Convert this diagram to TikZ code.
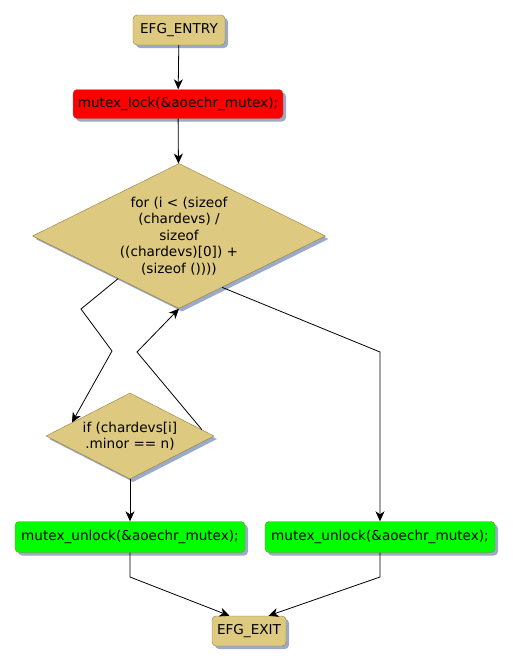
\documentclass[tikz,border=0pt]{standalone}
\usepackage{fontspec}
\setmainfont{DejaVu Sans}
\usetikzlibrary{shapes.geometric,shadows,arrows.meta}

\definecolor{boxtan}{RGB}{221,201,128}
\definecolor{boxedge}{RGB}{150,125,60}
\definecolor{shadowblue}{RGB}{155,170,200}

\tikzset{
  shade3/.style={drop shadow={shadow xshift=3pt, shadow yshift=-3pt, fill=shadowblue, opacity=1}},
  box/.style={draw=boxedge, fill=boxtan, rounded corners=4pt, inner sep=0pt, shade3,
    font=\fontsize{13.6}{16}\selectfont},
  choice/.style={diamond, aspect=2, draw=boxedge, fill=boxtan, inner sep=0pt, align=center, shade3},
  flow/.style={-{Stealth[length=10pt,width=9pt,inset=3pt]}, line width=0.8pt}
}

\begin{document}
\begin{tikzpicture}[x=1pt, y=-1pt]
    \useasboundingbox (0,0) rectangle (513,665);

    % Nodes
    \node[box, minimum width=92pt, minimum height=30pt] (entry) at (179,30) {EFG\_ENTRY};
    \node[box, fill=red, minimum width=210pt, minimum height=29pt] (lock) at (178,104) {mutex\_lock(\&aoechr\_mutex);};
    \node[choice, minimum width=293pt, minimum height=145pt, font=\fontsize{13.6}{16.5}\selectfont] (loop) at (179,236)
        {for (i < (sizeof\\(chardevs) /\\sizeof\\((chardevs)[0]) +\\(sizeof ())))};
    \node[choice, minimum width=168pt, minimum height=86pt, font=\fontsize{13.6}{16}\selectfont] (cond) at (130,436)
        {if (chardevs[i]\\.minor == n)};
    \node[box, fill=green, minimum width=230pt, minimum height=31pt] (unlockA) at (130,537) {mutex\_unlock(\&aoechr\_mutex);};
    \node[box, fill=green, minimum width=230pt, minimum height=31pt] (unlockB) at (380,537) {mutex\_unlock(\&aoechr\_mutex);};
    \node[box, minimum width=74pt, minimum height=30pt] (exit) at (249,631) {EFG\_EXIT};

    % Bend points
    \coordinate (l1) at (81,309);
    \coordinate (l2) at (112,351);
    \coordinate (r1) at (137,352);
    \coordinate (b1) at (380,352);
    \coordinate (la) at (130,577);
    \coordinate (lb) at (380,577);

    % Connectors
    \draw[flow] (entry) -- (lock);
    \draw[flow] (lock) -- (loop);
    \draw[flow] (loop.215) -- (l1) -- (l2) -- (cond.167);
    \draw[flow] (cond.5) -- (r1) -- (loop.south);
    \draw[flow] (loop.-50) -- (b1) -- (unlockB);
    \draw[flow] (cond) -- (unlockA);
    \draw[flow] (unlockA) -- (la) -- (exit.142);
    \draw[flow] (unlockB) -- (lb) -- (exit.38);
\end{tikzpicture}
\end{document}
